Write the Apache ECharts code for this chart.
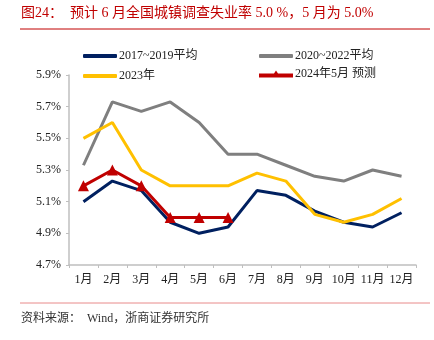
<!DOCTYPE html>
<html><head><meta charset="utf-8">
<script src="https://cdn.jsdelivr.net/npm/echarts@6/dist/echarts.min.js"></script>
<style>html,body{margin:0;padding:0;background:#fff}#c{width:434px;height:340px}</style>
</head><body><div id="c"></div>
<script>
var categories = ['1月','2月','3月','4月','5月','6月','7月','8月','9月','10月','11月','12月'];
var avg2017_2019 = [5.10,5.23,5.17,4.97,4.90,4.94,5.17,5.14,5.04,4.97,4.94,5.03];
var avg2020_2022 = [5.33,5.73,5.67,5.73,5.60,5.40,5.40,5.33,5.26,5.23,5.30,5.26];
var y2023 = [5.50,5.60,5.30,5.20,5.20,5.20,5.28,5.23,5.02,4.97,5.02,5.12];
var y2024 = [5.20,5.30,5.20,5.00,5.00,5.00];
var seriesNames = ['2017~2019平均','2020~2022平均','2023年','2024年5月 预测'];
var titleText = '图24：  预计 6 月全国城镇调查失业率 5.0 %，5 月为 5.0%';
var sourceText = '资料来源：  Wind，浙商证券研究所';

var FONT = '"Liberation Serif", "Noto Sans CJK SC", serif';
var legendText = {fontFamily:FONT, fontSize:12, color:'#222', padding:[0,0,0,-3]};
var chart = echarts.init(document.getElementById('c'), null, {renderer:'canvas'});
chart.setOption({
  animation:false,
  backgroundColor:'#fff',
  textStyle:{fontFamily:FONT},
  graphic:[
    {type:'text', left:21, top:6, style:{text:titleText, fill:'#c00000', font:'14px ' + FONT}},
    {type:'line', shape:{x1:20,y1:29,x2:430,y2:29}, style:{stroke:'#c00000', lineWidth:1}},
    {type:'line', shape:{x1:20,y1:303,x2:430,y2:303}, style:{stroke:'#e88a8a', lineWidth:1}},
    {type:'text', left:21, top:313, style:{text:sourceText, fill:'#333', font:'12px ' + FONT}}
  ],
  legend:[
    {left:78, top:45, orient:'vertical', itemGap:8, itemWidth:34, itemHeight:4, icon:'roundRect',
     textStyle:legendText, data:[seriesNames[0], seriesNames[2]]},
    {left:254, top:45, itemWidth:34, itemHeight:4, icon:'roundRect',
     textStyle:legendText, data:[seriesNames[1]]},
    {left:254, top:63, itemWidth:34, itemHeight:7,
     icon:'path://M0,3 L15,3 L17,0 L19,3 L34,3 L34,7 L0,7 Z',
     textStyle:legendText, data:[seriesNames[3]]}
  ],
  grid:{left:69, right:18, top:75, bottom:75},
  xAxis:{
    type:'category', data:categories, boundaryGap:true,
    axisLine:{lineStyle:{color:'#bfbfbf', width:1.5}},
    axisTick:{show:true, length:3, lineStyle:{color:'#bfbfbf'}},
    axisLabel:{fontFamily:FONT, fontSize:12, color:'#222', margin:9, interval:0}
  },
  yAxis:{
    type:'value', min:4.7, max:5.9, interval:0.2,
    axisLine:{show:true, lineStyle:{color:'#bfbfbf', width:1.5}},
    axisTick:{show:true, length:3, lineStyle:{color:'#bfbfbf'}},
    splitLine:{show:false},
    axisLabel:{fontFamily:FONT, fontSize:12, color:'#222', margin:8,
      formatter:function(v){return v.toFixed(1)+'%';}}
  },
  series:[
    {name:seriesNames[0], type:'line', data:avg2017_2019, symbol:'none',
     lineStyle:{color:'#002060', width:3}, itemStyle:{color:'#002060'}},
    {name:seriesNames[1], type:'line', data:avg2020_2022, symbol:'none',
     lineStyle:{color:'#7f7f7f', width:3}, itemStyle:{color:'#7f7f7f'}},
    {name:seriesNames[2], type:'line', data:y2023, symbol:'none',
     lineStyle:{color:'#ffc000', width:3}, itemStyle:{color:'#ffc000'}},
    {name:seriesNames[3], type:'line', data:y2024, symbol:'triangle', symbolSize:11,
     lineStyle:{color:'#c00000', width:3}, itemStyle:{color:'#c00000'}}
  ]
});
</script></body></html>
